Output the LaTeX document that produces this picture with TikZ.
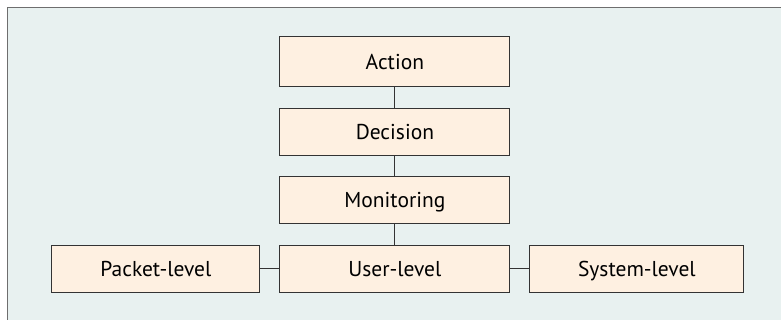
\documentclass[tikz,border=0pt]{standalone}
\usepackage{fontspec}
\setmainfont{PT Sans}
\usetikzlibrary{matrix}
\definecolor{panel}{HTML}{E8F1F0}
\definecolor{boxfill}{HTML}{FEF0E1}
\definecolor{framegray}{HTML}{6E6E6E}
\definecolor{boxline}{HTML}{333333}
\tikzset{
  level/.style={draw=boxline, fill=boxfill, line width=1pt, minimum height=47pt,
    inner sep=0pt, outer sep=0pt, anchor=center, text height=15pt, text depth=0pt,
    font=\fontsize{21.5}{25}\selectfont},
  link/.style={draw=boxline, line width=1pt},
}
\begin{document}
\begin{tikzpicture}[x=1pt,y=-1pt]
\useasboundingbox (0,0) rectangle (781,320);
\fill[panel] (7.5,7.5) rectangle (781,320);
\draw[framegray, line width=1.5pt] (7.5,320) -- (7.5,7.5) -- (781,7.5);

\matrix[matrix of nodes, name=m, anchor=north west, inner sep=0pt, row sep=20.5pt, column sep=19pt,
  nodes={level}] at (51.2,36.2) {
& |[minimum width=230pt, minimum height=50pt]| Action & \\
& |[minimum width=230pt]| Decision & \\
& |[minimum width=230pt]| Monitoring & \\
|[minimum width=208pt]| Packet-level & |[minimum width=230pt]| User-level & |[minimum width=214pt]| System-level \\};
\path[link]
(m-1-2) edge (m-2-2)
(m-2-2) edge (m-3-2)
(m-3-2) edge (m-4-2)
(m-4-1) edge (m-4-2)
(m-4-2) edge (m-4-3);
\end{tikzpicture}
\end{document}
